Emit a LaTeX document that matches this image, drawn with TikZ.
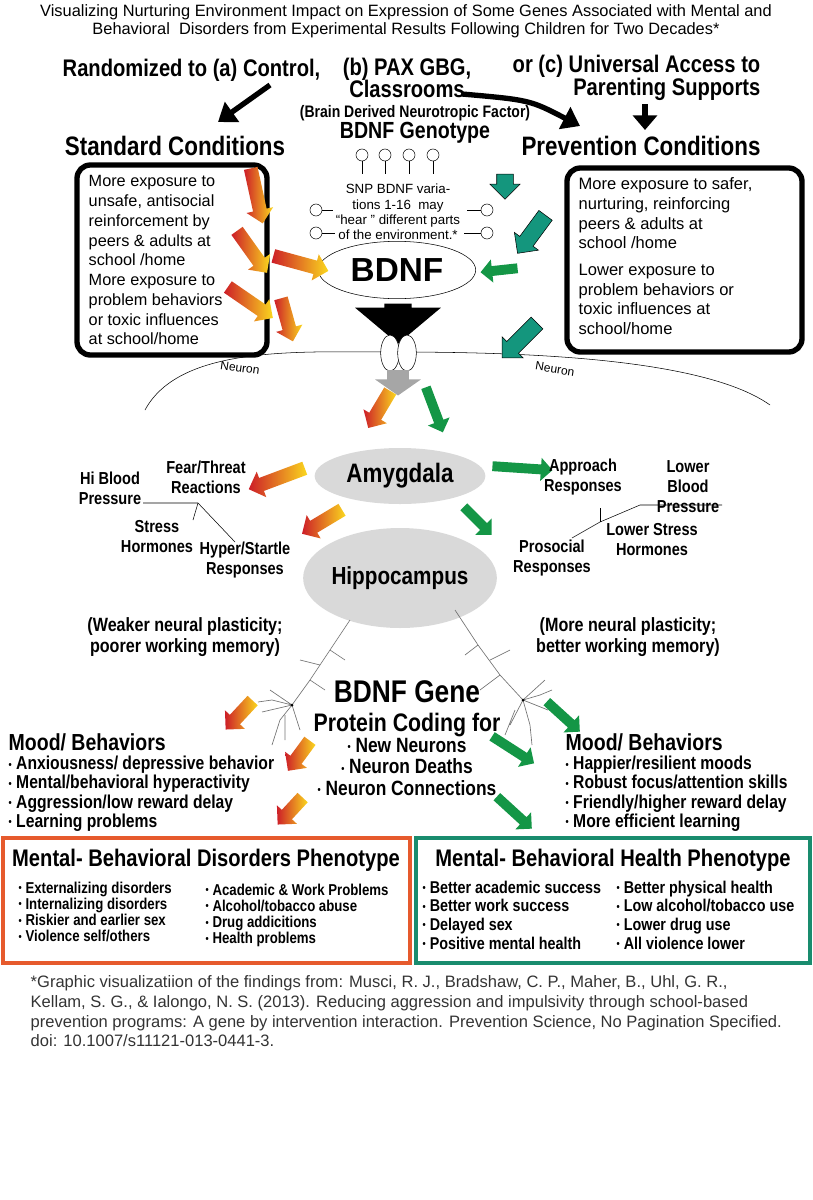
\documentclass[tikz,border=0pt]{standalone}
\usepackage{fontspec}
\setmainfont{Liberation Sans}
\newfontfamily\cond[FakeStretch=0.84]{Liberation Sans}
\usetikzlibrary{shapes.arrows,shapes.geometric,calc,arrows.meta}
\definecolor{myred}{RGB}{205,30,40}
\definecolor{myyel}{RGB}{250,215,30}
\definecolor{mygreen}{RGB}{20,150,70}
\definecolor{myteal}{RGB}{20,150,125}
\definecolor{boxred}{RGB}{230,90,45}
\definecolor{boxteal}{RGB}{25,140,110}
\tikzset{
 redarr/.style={single arrow, draw=none, inner xsep=0pt, inner ysep=5pt, single arrow head extend=5pt, left color=myred, right color=myyel, allow upside down},
 grnarr/.style={single arrow, draw=none, inner xsep=0pt, inner ysep=3.5pt, single arrow head extend=5pt, fill=mygreen, allow upside down},
 tealarr/.style={single arrow, draw=black, line width=0.4pt, inner xsep=0pt, inner ysep=6pt, single arrow head extend=5pt, fill=myteal, allow upside down},
 hd/.style={font=\cond\bfseries\fontsize{18}{17}\selectfont, align=center},
 lb/.style={font=\cond\bfseries\fontsize{13}{15}\selectfont, align=center},
 sbox/.style={draw, line width=4pt, rounded corners=10pt},
 bl/.style={ellipse, fill=black!15, draw=none},
 lol/.style={circle, draw, inner sep=0pt, minimum size=9pt},
}
\newcommand\blk[3]{\path let \p1=(#2), \p2=(#3), \n1={veclen(\x2-\x1,\y2-\y1)} in (#2) -- (#3) node[midway, sloped, #1, minimum height=\n1]{};}
\newcommand\bu{{\fontsize{8}{8}\selectfont\raisebox{0.15em}{\textbullet}}\ }
\begin{document}
\begin{tikzpicture}[x=0.75pt,y=-0.75pt]
\useasboundingbox (0,0) rectangle (813,1200);
% title
\node[align=center,font=\fontsize{12.3}{13.5}\selectfont] (title) at (406,21) {Visualizing Nurturing Environment Impact on Expression of Some Genes Associated with Mental and\\Behavioral\ \ Disorders from Experimental Results Following Children for Two Decades*};
\node[hd,anchor=west] (ra) at (58,70) {Randomized to (a) Control,};
\node[hd] (rb) at (407,78) {(b) PAX GBG,\\Classrooms};
\node[hd,anchor=west, align=right] (rc) at (508,78) {or (c) Universal Access to\\\hfill Parenting Supports};
\node[font=\cond\bfseries\fontsize{12.5}{13}\selectfont] (bdf) at (415,113) {(Brain Derived Neurotropic Factor)};
\node[font=\cond\bfseries\fontsize{17.5}{18}\selectfont] (gen) at (415,133) {BDNF Genotype};
\node[font=\cond\bfseries\fontsize{20}{21}\selectfont] (sc) at (175,146) {Standard Conditions};
\node[font=\cond\bfseries\fontsize{20}{21}\selectfont] (pc) at (641,146) {Prevention Conditions};
\coordinate (a1s) at (270,85); \coordinate (a1e) at (218,122);
\draw[line width=4pt,-{Triangle[length=13pt,width=18pt]}] (a1s) -- (a1e);
\coordinate (a2s) at (462,94); \coordinate (a2e) at (580,126);
\draw[line width=4pt,-{Triangle[length=13pt,width=18pt]}] (a2s) .. controls (530,100) .. (a2e);
\coordinate (a3s) at (645,104); \coordinate (a3e) at (645,130);
\draw[line width=4pt,-{Triangle[length=11pt,width=18pt]}] (a3s) -- (a3e);
% boxes
\draw[sbox] (77,165) rectangle (267,355);
\draw[sbox] (567,168) rectangle (802,352);
\node[anchor=north west, align=left, font=\fontsize{12.2}{14.8}\selectfont] (lt) at (84,171) {More exposure to\\unsafe, antisocial\\reinforcement by\\peers \& adults at\\school /home\\More exposure to\\problem behaviors\\or toxic influences\\at school/home};
\node[anchor=north west, align=left, font=\fontsize{12.4}{14.8}\selectfont] (rt) at (574,173) {More exposure to safer,\\nurturing, reinforcing\\peers \& adults at\\school /home\\[5pt]Lower exposure to\\problem behaviors or\\toxic influences at\\school/home};
% lollipops
\foreach \x/\n in {362/p1,385/p2,409/p3,433/p4}{\node[lol] (\n) at (\x,155) {}; \draw (\n.south) -- (\x,174);}
\node[align=center,font=\fontsize{10}{11.4}\selectfont] (snp) at (398,212) {SNP BDNF varia-\\tions 1-16\ \ may\\``hear '' different parts\\of the environment.*};
\node[lol] (q1) at (316,210) {}; \draw (q1.east) -- (333,210);
\node[lol] (q2) at (316,233) {}; \draw (q2.east) -- (335,233);
\node[lol] (q3) at (487,210) {}; \draw (q3.west) -- (467,210);
\node[lol] (q4) at (487,233) {}; \draw (q4.west) -- (464,233);
\node[ellipse, draw, minimum width=118pt, minimum height=43pt, font=\bfseries\fontsize{25}{26}\selectfont] (bdnf) at (397,270) {BDNF};
% membrane
\draw (145,410) .. controls (180,345) and (300,352) .. (390,352) .. controls (500,352) and (700,355) .. (770,405);
\node[rotate=-8,font=\fontsize{9}{10}\selectfont] (n1) at (240,368) {Neuron};
\node[rotate=-9,font=\fontsize{9}{10}\selectfont] (n2) at (555,369) {Neuron};
\node[single arrow, fill=black, minimum height=30pt, inner xsep=0pt, inner ysep=10pt, single arrow head extend=22pt, single arrow tip angle=100, rotate=-90] (barr) at (398,318) {};
\node[ellipse, draw, fill=white, minimum width=14pt, minimum height=27pt, inner sep=0pt] (r1) at (390,353) {};
\node[ellipse, draw, fill=white, minimum width=14pt, minimum height=27pt, inner sep=0pt] (r2) at (407,353) {};
\node[single arrow, fill=black!35, minimum height=19pt, inner xsep=0pt, inner ysep=8pt, single arrow head extend=9pt, single arrow tip angle=110, rotate=-90] (garr) at (398,379) {};
% env arrows left
\blk{redarr}{250,165}{262,220}
\blk{redarr}{235,228}{265,270}
\blk{redarr}{270,255}{325,270}
\blk{redarr}{280,295}{292,338}
\blk{redarr}{225,285}{270,316}
% right arrows
\blk{tealarr}{505,170}{505,195}
\blk{tealarr}{548,212}{520,250}
\blk{grnarr}{520,268}{483,272}
\blk{tealarr}{540,320}{505,355}
% amygdala / hippocampus
\node[bl, minimum width=128pt, minimum height=42pt, font=\cond\bfseries\fontsize{20}{21}\selectfont] (amy) at (400,476) {Amygdala};
\node[bl, minimum width=132pt, minimum height=75pt, inner sep=0pt, font=\cond\bfseries\fontsize{18.5}{20}\selectfont] (hip) at (400,578) {Hippocampus};
\blk{redarr}{392,388}{370,425}
\blk{grnarr}{425,385}{442,430}
\blk{redarr}{308,467}{252,488}
\blk{redarr}{345,508}{305,532}
\blk{grnarr}{490,466}{550,470}
\blk{grnarr}{462,505}{490,533}
% left labels
\node[lb] (fear) at (206,477) {Fear/Threat\\Reactions};
\node[lb] (hbp) at (110,488) {Hi Blood\\Pressure};
\node[lb] (stress) at (157,537) {Stress\\Hormones};
\node[lb] (hyper) at (245,560) {Hyper/Startle\\Responses};
\coordinate (lj) at (198,503);
\draw (143,503) -- (lj) -- (235,542); \draw (lj) -- (193,520);
% right labels
\node[lb] (app) at (583,477) {Approach\\Responses};
\node[lb] (lbp) at (688,487) {Lower\\Blood\\Pressure};
\node[lb] (pro) at (552,558) {Prosocial\\Responses};
\node[lb] (lsh) at (652,540) {Lower Stress\\Hormones};
\coordinate (rj) at (600,522);
\draw (572,538) -- (rj) -- (640,505) -- (722,505); \draw (rj) -- (600,508);
\node[lb,font=\cond\bfseries\fontsize{14.4}{15.5}\selectfont] (weak) at (185,637) {(Weaker neural plasticity;\\poorer working memory)};
\node[lb,font=\cond\bfseries\fontsize{14.4}{15.5}\selectfont] (more) at (628,637) {(More neural plasticity;\\better working memory)};
% neurons
\begin{scope}[black!55, line width=0.5pt]
\coordinate (nl) at (292,705);
\draw (350,620) -- (330,650) -- (310,680) -- (nl) -- (280,720) -- (272,745);
\draw (330,650) -- (345,660) (320,665) -- (300,660) (310,680) -- (325,690) (nl) -- (270,690) (nl) -- (262,712) (nl) -- (300,730) (285,715) -- (285,740) (nl) -- (272,700) -- (258,702);
\coordinate (nr) at (523,700);
\draw (455,610) -- (478,645) -- (500,675) -- (nr) -- (530,725) -- (532,745);
\draw (478,645) -- (465,655) (490,660) -- (510,650) (500,675) -- (480,690) (nr) -- (545,680) (nr) -- (548,710) (nr) -- (510,725) (515,710) -- (505,735) (nr) -- (540,695) -- (552,690);
\end{scope}
\fill (nl) circle (1.5); \fill (nr) circle (1.5);
% BDNF gene
\node[font=\cond\bfseries\fontsize{23.5}{25}\selectfont] (gene) at (407,692) {BDNF Gene};
\node[align=center, font=\cond\bfseries\fontsize{15.5}{16}\selectfont] (prot) at (407,754) {{\fontsize{19}{20}\selectfont Protein Coding for}\\\bu New Neurons\\\bu Neuron Deaths\\\bu Neuron Connections};
\blk{redarr}{255,698}{228,727}
\blk{redarr}{312,738}{290,768}
\blk{redarr}{305,795}{280,822}
\blk{grnarr}{545,700}{578,730}
\blk{grnarr}{490,735}{532,762}
\blk{grnarr}{495,795}{530,827}
% mood
\node[anchor=north west, align=left, font=\cond\bfseries\fontsize{14}{14.4}\selectfont] (ml) at (4,729) {{\fontsize{17.4}{17}\selectfont Mood/ Behaviors}\\\bu Anxiousness/ depressive behavior\\\bu Mental/behavioral hyperactivity\\\bu Aggression/low reward delay\\\bu Learning problems};
\node[anchor=north west, align=left, font=\cond\bfseries\fontsize{14}{14.4}\selectfont] (mr) at (561,729) {{\fontsize{17.4}{17}\selectfont Mood/ Behaviors}\\\bu Happier/resilient moods\\\bu Robust focus/attention skills\\\bu Friendly/higher reward delay\\\bu More efficient learning};
% bottom boxes
\draw[boxred, line width=2.5pt] (3,838) rectangle (410,963);
\draw[boxteal, line width=2.5pt] (416,838) rectangle (810,963);
\node[font=\cond\bfseries\fontsize{18}{20}\selectfont] (bt1) at (206,860) {Mental- Behavioral Disorders Phenotype};
\node[font=\cond\bfseries\fontsize{18}{20}\selectfont] (bt2) at (613,860) {Mental- Behavioral Health Phenotype};
\node[anchor=north west, align=left, font=\cond\bfseries\fontsize{11.8}{12.2}\selectfont] (b1a) at (14,877) {\bu Externalizing disorders\\\bu Internalizing disorders\\\bu Riskier and earlier sex\\\bu Violence self/others};
\node[anchor=north west, align=left, font=\cond\bfseries\fontsize{11.8}{12.2}\selectfont] (b1b) at (201,879) {\bu Academic \& Work Problems\\\bu Alcohol/tobacco abuse\\\bu Drug addicitions\\\bu Health problems};
\node[anchor=north west, align=left, font=\cond\bfseries\fontsize{12.8}{14}\selectfont] (b2a) at (418,876) {\bu Better academic success\\\bu Better work success\\\bu Delayed sex\\\bu Positive mental health};
\node[anchor=north west, align=left, font=\cond\bfseries\fontsize{12.8}{14}\selectfont] (b2b) at (612,876) {\bu Better physical health\\\bu Low alcohol/tobacco use\\\bu Lower drug use\\\bu All violence lower};
\node[anchor=north west, align=left, text=black!80, font=\fontsize{12.4}{14.8}\selectfont] (foot) at (26,971) {*Graphic visualizatiion of the findings from: Musci, R. J., Bradshaw, C. P., Maher, B., Uhl, G. R.,\\Kellam, S. G., \& Ialongo, N. S. (2013). Reducing aggression and impulsivity through school-based\\prevention programs: A gene by intervention interaction. Prevention Science, No Pagination Specified.\\doi: 10.1007/s11121-013-0441-3.};
\end{tikzpicture}
\end{document}
